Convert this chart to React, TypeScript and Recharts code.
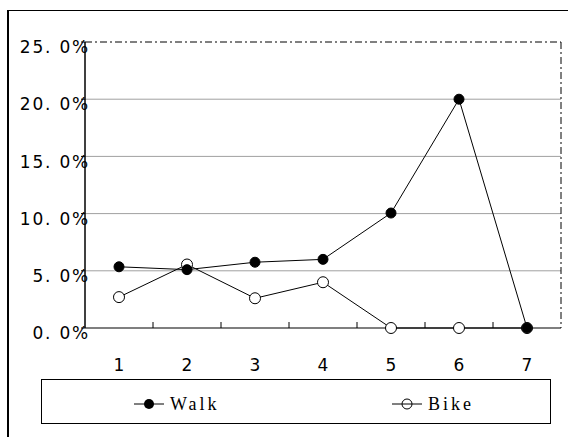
import React from 'react';
import { LineChart, Line, XAxis, YAxis, ReferenceLine, Legend } from 'recharts';

const categories = [1, 2, 3, 4, 5, 6, 7];
const walkValues = [5.35, 5.1, 5.75, 6.0, 10.05, 20.0, 0.0];
const bikeValues = [2.7, 5.55, 2.6, 4.0, 0.0, 0.0, 0.0];
const yTicks = [0, 5, 10, 15, 20, 25];
const gridValues = [5, 10, 15, 20];
const boundaryTicks = [1.5, 2.5, 3.5, 4.5, 5.5, 6.5];
const seriesNames = ['Walk', 'Bike'];

const data = categories.map((c, i) => ({ x: c, walk: walkValues[i], bike: bikeValues[i] }));

const fmtY = (v: number) => v.toFixed(1).replace('.', '. ') + '%';

const YTick = (props: any) => {
  const { x, y, payload } = props;
  return (
    <text
      x={x + 9}
      y={y + 5}
      dy="0.36em"
      textAnchor="end"
      fontFamily="DejaVu Sans, sans-serif"
      fontSize={17}
      letterSpacing={1.8}
      fill="#000"
    >
      {fmtY(payload.value)}
    </text>
  );
};

const XTick = (props: any) => {
  const { x, y, payload } = props;
  return (
    <text
      x={x}
      y={y + 43}
      textAnchor="middle"
      fontFamily="DejaVu Sans, sans-serif"
      fontSize={17}
      fill="#000"
    >
      {payload.value}
    </text>
  );
};

const EmptyTick = () => <g />;

const LegendBox = () => (
  <div
    style={{
      position: 'relative',
      width: 510,
      height: 45,
      boxSizing: 'border-box',
      border: '1px solid #000',
      background: '#fff',
    }}
  >
    {seriesNames.map((name, i) => (
      <div
        key={name}
        style={{
          position: 'absolute',
          left: i === 0 ? 92 : 350,
          top: 12,
          height: 24,
          display: 'flex',
          alignItems: 'center',
        }}
      >
        <svg width={30} height={12} style={{ display: 'block' }}>
          <line x1={0} y1={6} x2={30} y2={6} stroke="#000" strokeWidth={1} />
          {i === 0 ? (
            <circle cx={15} cy={6} r={5} fill="#000" />
          ) : (
            <circle cx={15} cy={6} r={5} fill="none" stroke="#000" strokeWidth={1} />
          )}
        </svg>
        <span
          style={{
            marginLeft: 6,
            fontFamily: 'Liberation Serif, Times New Roman, serif',
            fontSize: 18,
            letterSpacing: 3,
            color: '#000',
          }}
        >
          {name}
        </span>
      </div>
    ))}
  </div>
);

const dashDot = '7 3 2 3';

export default function App() {
  return (
    <div
      style={{
        position: 'fixed',
        left: 7,
        top: 10,
        width: 559,
        height: 427,
        overflow: 'hidden',
        borderTop: '1px solid #000',
        borderLeft: '2px solid #000',
        background: '#fff',
      }}
    >
      <LineChart width={558} height={426} data={data} margin={{ top: 30, right: 5, left: 0, bottom: 13 }}>
        <XAxis
          dataKey="x"
          type="number"
          domain={[0.5, 7.5]}
          ticks={categories}
          tickLine={false}
          tickSize={0}
          tickMargin={0}
          height={51}
          axisLine={{ stroke: '#000', strokeWidth: 1.2 }}
          tick={<XTick />}
        />
        <XAxis
          xAxisId="bnd"
          dataKey="x"
          type="number"
          domain={[0.5, 7.5]}
          ticks={boundaryTicks}
          mirror
          height={1}
          tick={<EmptyTick />}
          tickSize={6}
          tickLine={{ stroke: '#000' }}
          axisLine={false}
        />
        <XAxis
          xAxisId="top"
          orientation="top"
          type="number"
          dataKey="x"
          domain={[0.5, 7.5]}
          height={1}
          tick={false}
          tickLine={false}
          axisLine={{ stroke: '#000', strokeDasharray: dashDot }}
        />
        <YAxis
          domain={[0, 25]}
          ticks={yTicks}
          width={76}
          tickSize={4}
          tickMargin={0}
          tickLine={{ stroke: '#000' }}
          axisLine={{ stroke: '#000', strokeWidth: 1.5 }}
          tick={<YTick />}
        />
        <YAxis
          yAxisId="right"
          orientation="right"
          domain={[0, 25]}
          width={1}
          tick={false}
          tickLine={false}
          axisLine={{ stroke: '#000', strokeDasharray: dashDot }}
        />
        {gridValues.map((v) => (
          <ReferenceLine key={v} y={v} stroke="#a0a0a0" strokeWidth={1} />
        ))}
        <Legend
          verticalAlign="bottom"
          content={() => <LegendBox />}
          wrapperStyle={{ left: 32, bottom: 13, width: 510, height: 45 }}
        />
        <Line
          dataKey="bike"
          name="Bike"
          stroke="#000"
          strokeWidth={1}
          isAnimationActive={false}
          dot={{ r: 5.5, fill: '#fff', stroke: '#000', strokeWidth: 1 }}
        />
        <Line
          dataKey="walk"
          name="Walk"
          stroke="#000"
          strokeWidth={1}
          isAnimationActive={false}
          dot={{ r: 5, fill: '#000', stroke: '#000', strokeWidth: 1 }}
        />
      </LineChart>
    </div>
  );
}
